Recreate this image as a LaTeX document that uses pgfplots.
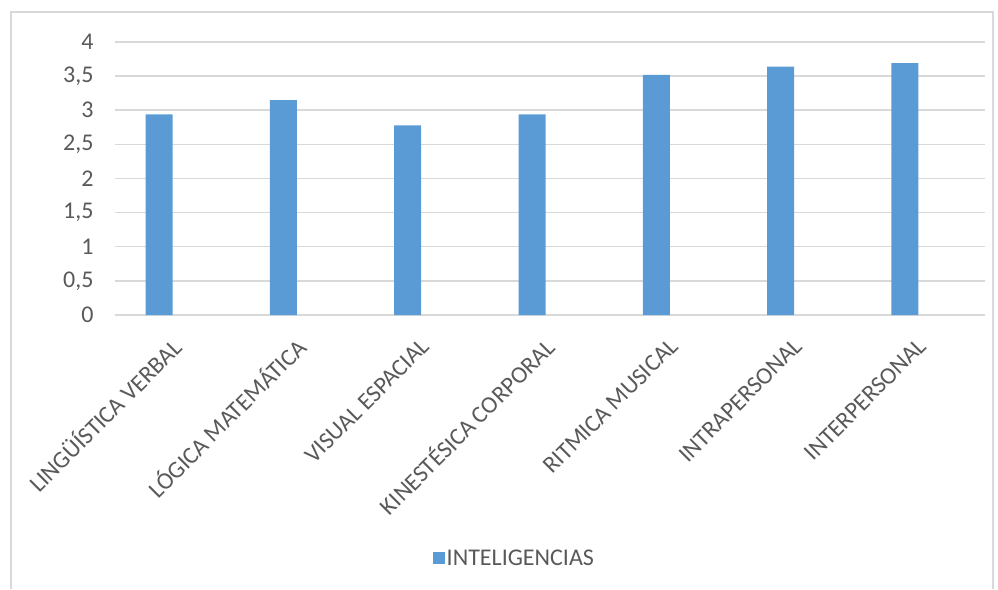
\documentclass[border=0pt]{standalone}
\usepackage{fontspec}
\setmainfont{Carlito}
\usepackage{pgfplots}
\pgfplotsset{compat=1.18}
\definecolor{barblue}{HTML}{5B9BD5}
\definecolor{gridgray}{HTML}{D9D9D9}
\definecolor{txtgray}{HTML}{595959}
\begin{document}
\begin{tikzpicture}[x=1pt,y=1pt]
\useasboundingbox (0,0) rectangle (998,589);
\draw[gridgray, line width=1.5pt] (11,0) -- (11,577) -- (993,577) -- (993,0);
\begin{axis}[
    at={(115pt,274pt)}, anchor=south west,
    width=870pt, height=273pt, scale only axis,
    xmin=-0.5, xmax=6.5, ymin=0, ymax=4,
    ytick={0,0.5,1,1.5,2,2.5,3,3.5,4},
    xtick={0,1,2,3,4,5,6},
    xticklabels={LINGÜÍSTICA VERBAL, LÓGICA MATEMÁTICA, VISUAL ESPACIAL, KINESTÉSICA CORPORAL, RITMICA MUSICAL, INTRAPERSONAL, INTERPERSONAL},
    /pgf/number format/use comma,
    /pgf/number format/assume math mode=true,
    axis line style={draw=none},
    major tick length=0pt,
    ymajorgrids, grid style={gridgray, line width=1.5pt},
    tick label style={font=\fontsize{24}{28}\selectfont, text=txtgray},
    yticklabel style={xshift=-18pt},
    xticklabel style={xshift=2pt, yshift=-25pt, rotate=45, anchor=east},
    legend style={at={(0.459,-0.89)}, anchor=center, draw=none, fill=none,
        font=\fontsize{24}{28}\selectfont, text=txtgray},
    legend image code/.code={\fill[barblue] (0pt,-6pt) rectangle (12pt,6pt);},
]
\addplot[ybar, bar width=27pt, bar shift=-18pt, fill=barblue, draw=none]
    coordinates {(0,2.94) (1,3.15) (2,2.78) (3,2.94) (4,3.52) (5,3.64) (6,3.69)};
\legend{INTELIGENCIAS}
\end{axis}
\end{tikzpicture}
\end{document}
